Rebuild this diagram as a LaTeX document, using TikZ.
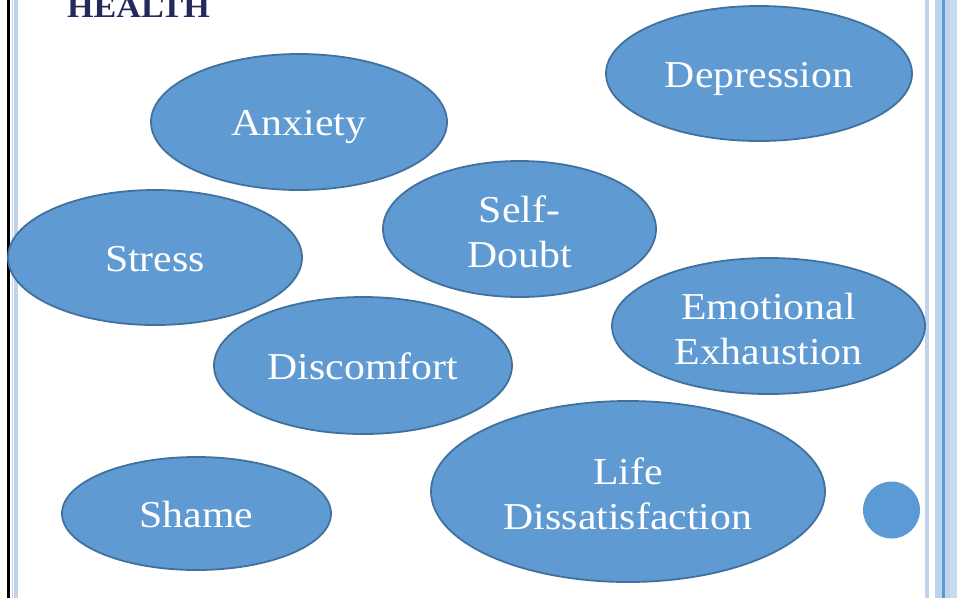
\documentclass[tikz,border=0pt]{standalone}
\usepackage{fontspec}
\setmainfont{Liberation Serif}[FakeStretch=1.1]
\usetikzlibrary{shapes.geometric}
\definecolor{bubblefill}{HTML}{5F9BD2}
\definecolor{bubbleline}{HTML}{41719C}
\definecolor{framelight}{HTML}{BFD3EA}
\definecolor{framemid}{HTML}{5B9BD5}
\definecolor{titlenavy}{HTML}{25285A}
\tikzset{
  bubble/.style={ellipse, fill=bubblefill, draw=bubbleline, line width=1.8pt,
    inner sep=0pt, text=white, align=center,
    font=\fontsize{38}{45}\selectfont},
  oneline/.style={text height=27pt, text depth=0pt},
  twolines/.style={yshift=-2.5pt},
}
\begin{document}
\begin{tikzpicture}[x=1pt, y=-1pt]
  \useasboundingbox (0,0) rectangle (957,598);
  \clip (0,0) rectangle (957,598);

  % page frame: left rules
  \fill[black] (7,0) rectangle (9.6,598);
  \fill[framelight] (12,0) rectangle (13.2,598);
  \fill[framelight] (14,0) rectangle (18,598);
  % page frame: right rules
  \fill[framelight] (925,0) rectangle (929,598);
  \fill[framelight] (935,0) rectangle (942,598);
  \fill[framemid] (942,0) rectangle (944.5,598);
  \fill[framelight] (944.5,0) rectangle (950,598);
  \fill[framelight!85!white] (950,0) rectangle (957,598);

  % heading (cut off at the top edge)
  \node[anchor=base west, inner sep=0pt, text=titlenavy,
        font=\fontsize{31}{31}\selectfont\bfseries] (title) at (67,17) {HEALTH};

  % emotion bubbles
  \node[bubble, oneline, minimum width=296pt, minimum height=136pt] (anxiety) at (299,122) {Anxiety};
  \node[bubble, oneline, minimum width=306pt, minimum height=135pt] (depression) at (759,73.5) {Depression};
  \node[bubble, oneline, minimum width=294pt, minimum height=135pt] (stress) at (155,257.5) {Stress};
  \node[bubble, minimum width=273pt, minimum height=136pt,
        label={[bubble, draw=none, fill=none, twolines]center:Self-\\Doubt}] (selfdoubt) at (519.5,229) {};
  \node[bubble, minimum width=313pt, minimum height=136pt,
        label={[bubble, draw=none, fill=none, twolines]center:Emotional\\Exhaustion}] (exhaustion) at (768.5,326) {};
  \node[bubble, oneline, minimum width=298pt, minimum height=137pt] (discomfort) at (363,365.5) {Discomfort};
  \node[bubble, oneline, minimum width=269pt, minimum height=113pt] (shame) at (196.5,513.5) {Shame};
  \node[bubble, minimum width=394pt, minimum height=181pt,
        label={[bubble, draw=none, fill=none, twolines]center:Life\\Dissatisfaction}] (life) at (628,491.5) {};

  % small dot at the right
  \node[circle, fill=framemid, inner sep=0pt, minimum size=57pt] (dot) at (891.5,510) {};
\end{tikzpicture}
\end{document}
